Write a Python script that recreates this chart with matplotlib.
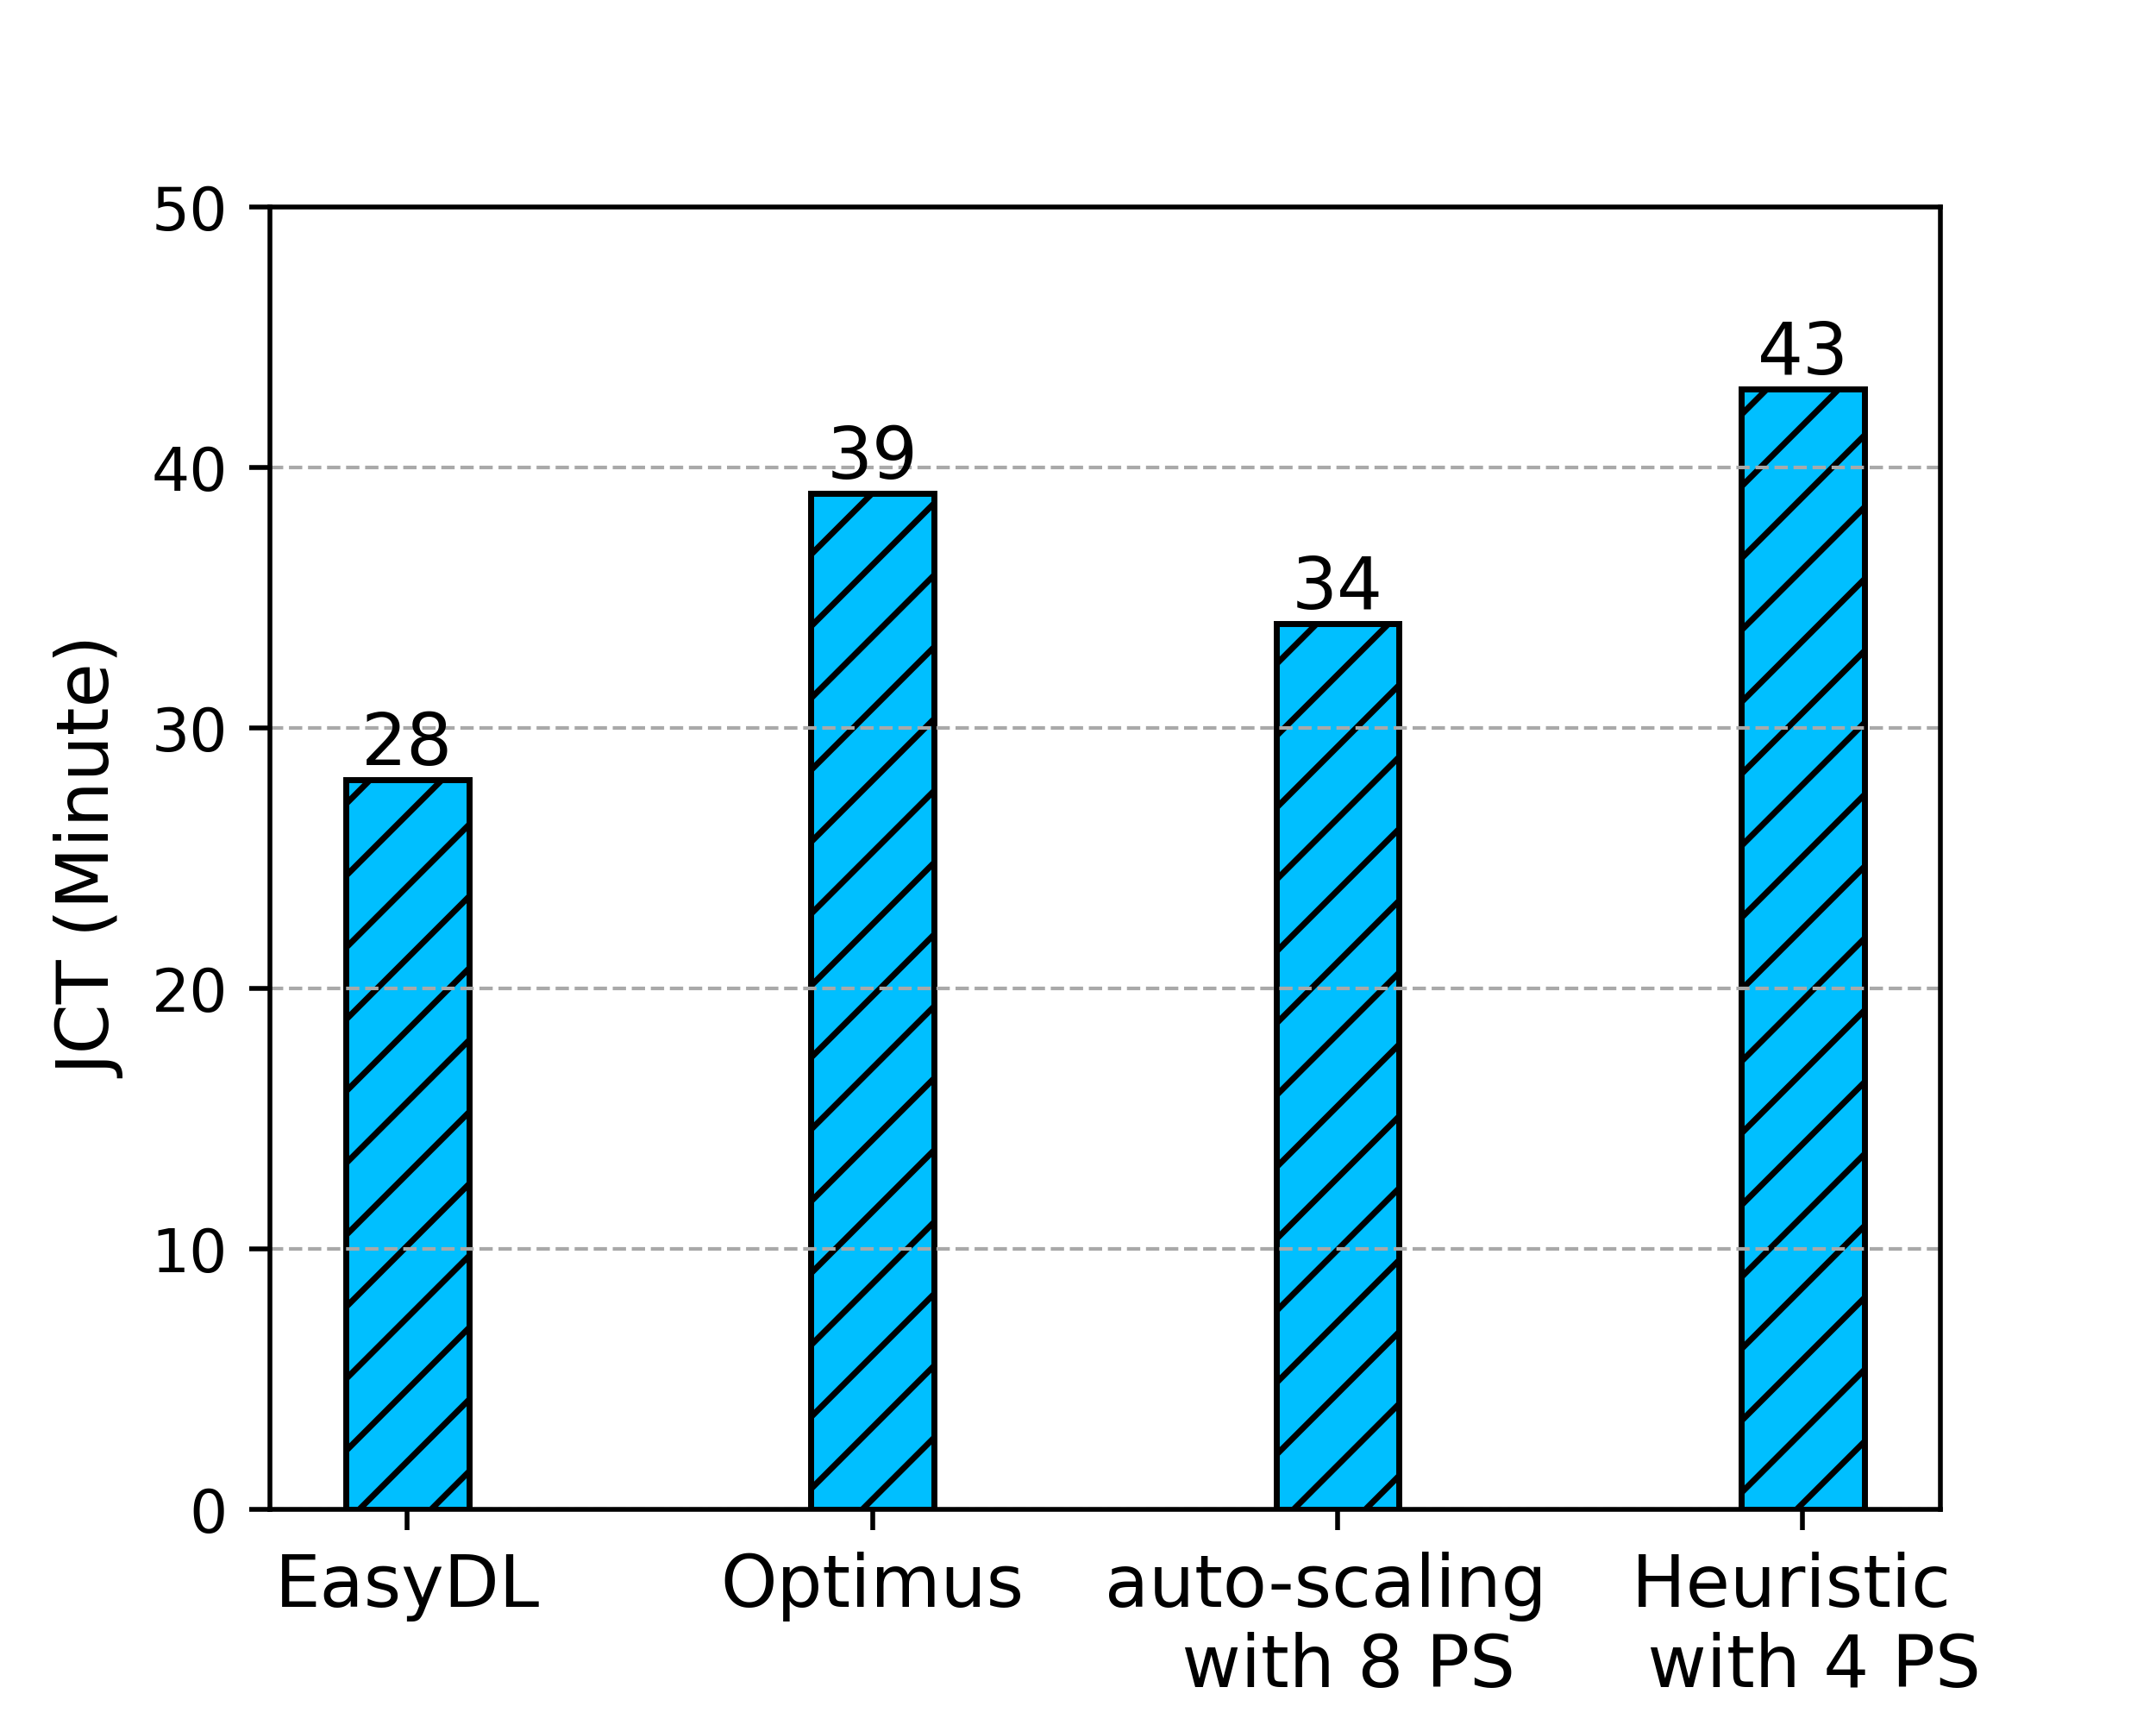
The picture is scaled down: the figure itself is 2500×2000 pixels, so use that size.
import numpy as np
import matplotlib
matplotlib.use("Agg")
import matplotlib.pyplot as plt

methods = ["EasyDL", "Optimus", "auto-scaling \n with 8 PS", "Heuristic \n with 4 PS"]
jct = [28, 39, 34, 43]

fig, ax = plt.subplots(figsize=(5, 4), dpi=500)
fig.subplots_adjust(left=0.125, right=0.9, top=0.88, bottom=0.125)

x = np.arange(len(methods))
bars = ax.bar(x, jct, width=0.265, color="deepskyblue", edgecolor="black",
              linewidth=1, hatch="//")
ax.bar_label(bars, labels=[str(v) for v in jct], fontsize=12, padding=0)

ax.set_ylim(0, 50)
ax.set_xticks(x)
ax.set_xticklabels(methods, fontsize=12)
ax.tick_params(axis="y", labelsize=10)
ax.set_ylabel("JCT (Minute)", fontsize=12)
ax.yaxis.grid(True, linestyle="--", color="darkgray", linewidth=0.6)

fig.savefig("out.png", dpi=500)
